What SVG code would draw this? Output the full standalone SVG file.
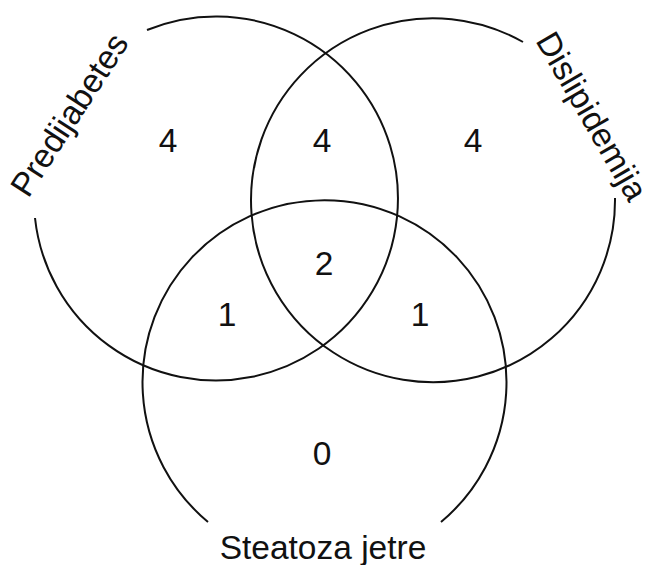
<svg xmlns="http://www.w3.org/2000/svg" width="649" height="565" viewBox="0 0 649 565">
<style>
.c{fill:none;stroke:#111;stroke-width:2}
.t{font-family:"Liberation Sans",Arial,sans-serif;font-size:33.5px;fill:#111;text-anchor:middle}
</style>
<rect width="649" height="565" fill="#fff"/>
<g id="set-predijabetes">
<path class="c" d="M 147 30 A 182 182 0 1 1 35 218"/>
<text class="t" transform="translate(79,121) rotate(-57)">Predijabetes</text>
</g>
<g id="set-dislipidemija">
<path class="c" d="M 615 198 A 182 182 0 1 1 523 42"/>
<text class="t" transform="translate(582,122) rotate(60)">Dislipidemija</text>
</g>
<g id="set-steatoza">
<path class="c" d="M 208 522 A 182 182 0 1 1 441 522"/>
<text class="t" x="323" y="559">Steatoza jetre</text>
</g>
<g id="counts">
<text class="t" x="168" y="152">4</text>
<text class="t" x="322" y="152">4</text>
<text class="t" x="473" y="152">4</text>
<text class="t" x="324" y="275">2</text>
<text class="t" x="227" y="326">1</text>
<text class="t" x="420" y="326">1</text>
<text class="t" x="322" y="465">0</text>
</g>
</svg>
